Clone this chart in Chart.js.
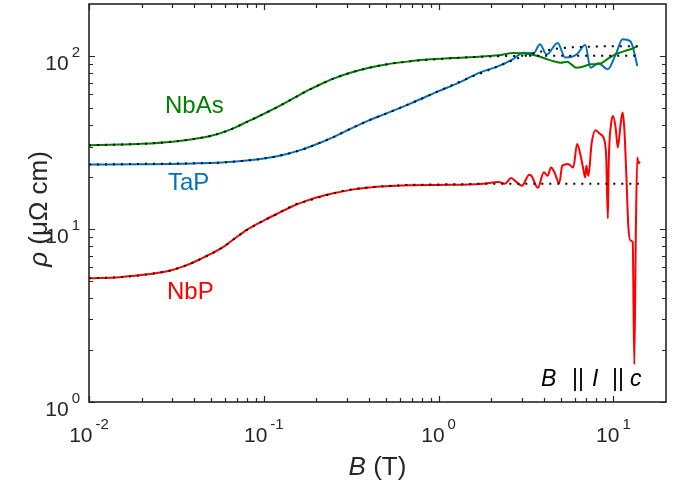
<!DOCTYPE html>
<html>
<head>
<meta charset="utf-8">
<script src="https://cdn.jsdelivr.net/npm/chart.js@4"></script>
<style>
  html, body { margin: 0; padding: 0; background: #fff; }
  #wrap { width: 685px; height: 483px; }
</style>
</head>
<body>
<div id="wrap"><canvas id="chart" width="685" height="483"></canvas></div>
<script>
// field values (T) and resistivity (uOhm cm)
const bNbAs = [0.01, 0.015, 0.02, 0.03, 0.04, 0.05, 0.06, 0.07, 0.08, 0.09, 0.1, 0.12, 0.15, 0.18, 0.21, 0.25, 0.3, 0.4, 0.5, 0.7, 0.9, 1.2, 1.7, 2.2, 2.7, 3.2, 3.7, 4.2, 4.6, 5.0, 5.45, 5.8, 6.1, 6.6, 7.4, 8.4, 9.2, 10, 11, 12, 13, 13.7];
const rhoNbAs = [30.5, 30.8, 31.1, 32.0, 33.2, 34.6, 36.6, 39.0, 41.6, 44.0, 46.3, 50.8, 57.5, 63.5, 68.5, 74, 79, 85.5, 89.5, 93.5, 95.7, 97.5, 99, 101, 104, 103, 100, 95.7, 93, 91.5, 92.7, 89, 85.7, 86.5, 89.6, 90.3, 95.7, 101, 105, 108, 111, 114];

const bTaP = [0.01, 0.02, 0.03, 0.04, 0.05, 0.06, 0.08, 0.1, 0.13, 0.16, 0.2, 0.25, 0.3, 0.4, 0.5, 0.7, 1.0, 1.3, 1.7, 2.2, 2.67, 3.05, 3.5, 3.8, 4.15, 4.8, 5.3, 5.8, 6.2, 6.9, 7.4, 8.2, 9.3, 10.3, 11.3, 12.5, 13.1, 13.7];
const rhoTaP = [23.6, 23.7, 23.8, 23.95, 24.1, 24.3, 24.9, 25.6, 26.9, 28.5, 30.9, 34.0, 37.2, 42.5, 46.5, 53.5, 62.7, 70, 80, 87.5, 96, 104.5, 104, 117, 102, 119, 98, 99, 102.7, 115.7, 85.7, 91, 84, 102, 125, 122, 107, 87.6];

const bNbP = [0.01, 0.015, 0.02, 0.025, 0.03, 0.035, 0.04, 0.05, 0.06, 0.07, 0.08, 0.09, 0.1, 0.12, 0.145, 0.17, 0.2, 0.25, 0.32, 0.4, 0.5, 0.7, 1.0, 1.5, 1.8, 2.2, 2.4, 2.6, 2.8, 3.0, 3.3, 3.4, 3.7, 4.0, 4.2, 4.4, 4.6, 4.9, 5.1, 5.5, 5.9, 6.2, 6.5, 6.7, 6.9, 7.0, 7.2, 7.5, 7.9, 8.4, 8.9, 9.1, 9.3, 9.4, 9.7, 9.95, 10.3, 10.6, 11.0, 11.3, 11.55, 11.85, 12.17, 12.5, 12.9, 13.17, 13.45, 13.7, 13.9, 14.2];
const rhoNbP = [5.2, 5.27, 5.42, 5.58, 5.8, 6.1, 6.45, 7.2, 8.0, 9.0, 9.9, 10.6, 11.2, 12.3, 13.5, 14.4, 15.2, 16.1, 16.9, 17.4, 17.7, 17.9, 18.0, 18.1, 18.3, 18.7, 18.3, 19.7, 18.6, 17.8, 20.6, 20.3, 17.3, 21.3, 20.3, 22.7, 21.3, 18.4, 23.2, 23.8, 22.7, 31, 26.5, 22.7, 19.9, 23.2, 20.3, 31, 37.3, 35.4, 32.4, 25.9, 11.5, 23.7, 40.4, 45, 38.6, 29.6, 40.4, 47.1, 38, 21, 10.5, 8.6, 8.4, 1.65, 10, 25.9, 24, 24.5];

// dotted fit curves
const bFit = [0.01, 0.015, 0.02, 0.03, 0.04, 0.05, 0.06, 0.07, 0.08, 0.09, 0.1, 0.12, 0.15, 0.18, 0.21, 0.25, 0.3, 0.4, 0.5, 0.7, 1, 1.5, 2, 3, 4, 5, 6, 8, 10, 14];
const fitNbAs = [30.5, 30.8, 31.1, 32.0, 33.2, 34.6, 36.6, 39.0, 41.6, 44.0, 46.3, 50.8, 57.5, 63.5, 68.5, 74, 79, 85.5, 89.5, 93.5, 96, 98.5, 99.5, 100.3, 100.5, 100.5, 100.5, 100.5, 100.5, 100.5];
const fitTaP = [23.6, 23.7, 23.8, 23.9, 24.0, 24.1, 24.3, 24.6, 24.9, 25.2, 25.6, 26.4, 27.9, 29.6, 31.6, 34.0, 37.2, 42.5, 46.5, 53.5, 62.7, 75, 84, 99, 107, 111, 112.5, 113.5, 114, 114];
const fitNbP = [5.2, 5.27, 5.42, 5.8, 6.45, 7.2, 8.0, 9.0, 9.9, 10.6, 11.2, 12.3, 13.8, 14.6, 15.3, 16.1, 16.8, 17.4, 17.7, 18.0, 18.1, 18.2, 18.3, 18.3, 18.3, 18.3, 18.3, 18.3, 18.3, 18.3];

// axes
const xMajorTicks = [0.01, 0.1, 1, 10];
const xTickExps = ['-2', '-1', '0', '1'];
const yMajorTicks = [1, 10, 100];
const yTickExps = ['0', '1', '2'];

const axisColor = '#262626';
const font = "'Liberation Sans', Arial, Helvetica, sans-serif";

function pts(xs, ys) {
    return xs.map((v, i) => ({ x: v, y: ys[i] }));
}

function minorTicks(min, max) {
    const out = [];
    for (let d = min; d < max; d *= 10) {
        for (let k = 2; k <= 9; k++) {
            const v = k * d;
            if (v < max) out.push(v);
        }
    }
    return out;
}

function drawPow(ctx, exp, x, y, align) {
    ctx.font = '21px ' + font;
    const wb = ctx.measureText('10').width + 3;
    ctx.font = '15px ' + font;
    const we = ctx.measureText(exp).width;
    let left = align === 'center' ? x - (wb + we) / 2 : x - (wb + we);
    ctx.textAlign = 'left';
    ctx.textBaseline = 'alphabetic';
    ctx.font = '21px ' + font;
    ctx.fillText('10', left, y);
    ctx.font = '15px ' + font;
    ctx.fillText(exp, left + wb, y - 13);
}

function drawParts(ctx, parts, x, y, size) {
    // parts: [text, italic]
    let cx = x;
    parts.forEach(p => {
        ctx.font = (p[1] ? 'italic ' : '') + size + 'px ' + font;
        ctx.fillText(p[0], cx, y);
        cx += ctx.measureText(p[0]).width;
    });
    return cx - x;
}

function partsWidth(ctx, parts, size) {
    let w = 0;
    parts.forEach(p => {
        ctx.font = (p[1] ? 'italic ' : '') + size + 'px ' + font;
        w += ctx.measureText(p[0]).width;
    });
    return w;
}

const axesPlugin = {
    id: 'matlabAxes',
    afterDraw(chart) {
        const { ctx, chartArea: a, scales: { x, y } } = chart;
        ctx.save();
        ctx.strokeStyle = axisColor;
        ctx.fillStyle = axisColor;

        // ticks, inward on all four sides
        ctx.lineWidth = 1.2;
        ctx.beginPath();
        const xt = xMajorTicks.map(v => [v, 6]).concat(minorTicks(0.01, 20).map(v => [v, 4]));
        xt.forEach(([v, len]) => {
            const px = Math.round(x.getPixelForValue(v)) + 0.5;
            ctx.moveTo(px, a.bottom); ctx.lineTo(px, a.bottom - len);
            ctx.moveTo(px, a.top); ctx.lineTo(px, a.top + len);
        });
        const yt = yMajorTicks.map(v => [v, 6]).concat(minorTicks(1, 200).map(v => [v, 4]));
        yt.forEach(([v, len]) => {
            const py = Math.round(y.getPixelForValue(v)) + 0.5;
            ctx.moveTo(a.left, py); ctx.lineTo(a.left + len, py);
            ctx.moveTo(a.right, py); ctx.lineTo(a.right - len, py);
        });
        ctx.stroke();

        // box
        ctx.lineWidth = 1.6;
        ctx.strokeRect(a.left, a.top, a.right - a.left, a.bottom - a.top);

        // tick labels
        xMajorTicks.forEach((v, i) => drawPow(ctx, xTickExps[i], x.getPixelForValue(v), a.bottom + 40, 'center'));
        yMajorTicks.forEach((v, i) => drawPow(ctx, yTickExps[i], a.left - 9, y.getPixelForValue(v) + 14, 'right'));

        // axis titles
        ctx.textAlign = 'left';
        ctx.textBaseline = 'alphabetic';
        const xl = [['B', true], [' (T)', false]];
        drawParts(ctx, xl, (a.left + a.right) / 2 - partsWidth(ctx, xl, 26) / 2, 475, 26);
        const yl = [['\u03C1', true], [' (\u03BC\u03A9 cm)', false]];
        ctx.save();
        ctx.translate(47, (a.top + a.bottom) / 2 + 6);
        ctx.rotate(-Math.PI / 2);
        drawParts(ctx, yl, -partsWidth(ctx, yl, 26) / 2, 0, 26);
        ctx.restore();

        // B || I || c
        ctx.fillStyle = '#000';
        const by = a.bottom - 16;
        ctx.font = 'italic 23px ' + font; ctx.fillText('B', a.right - 125, by);
        ctx.font = '23px ' + font; ctx.fillText('||', a.right - 94, by);
        ctx.font = 'italic 23px ' + font; ctx.fillText('I', a.right - 74, by);
        ctx.font = '23px ' + font; ctx.fillText('||', a.right - 54, by);
        ctx.font = 'italic 23px ' + font; ctx.fillText('c', a.right - 36, by);

        // series labels
        ctx.font = '24px ' + font;
        ctx.fillStyle = '#008000'; ctx.fillText('NbAs', a.left + 76, a.top + 109);
        ctx.fillStyle = '#0072BD'; ctx.fillText('TaP', a.left + 79, a.top + 186);
        ctx.fillStyle = '#FF0000'; ctx.fillText('NbP', a.left + 78, a.top + 295);
        ctx.restore();
    }
};

const lineStyle = { showLine: true, pointRadius: 0, borderWidth: 2, cubicInterpolationMode: 'monotone', fill: false };
const fitStyle = { showLine: true, pointRadius: 0, borderWidth: 2, borderColor: '#000', borderDash: [2, 6], cubicInterpolationMode: 'monotone', fill: false, order: 0 };

new Chart(document.getElementById('chart'), {
    type: 'scatter',
    data: {
        datasets: [
            { ...fitStyle, data: pts(bFit, fitNbAs) },
            { ...fitStyle, data: pts(bFit, fitTaP) },
            { ...fitStyle, data: pts(bFit, fitNbP) },
            { ...lineStyle, order: 1, borderColor: '#008000', data: pts(bNbAs, rhoNbAs) },
            { ...lineStyle, order: 2, borderColor: '#0072BD', data: pts(bTaP, rhoTaP) },
            { ...lineStyle, order: 1, borderColor: '#FF0000', data: pts(bNbP, rhoNbP) }
        ]
    },
    options: {
        responsive: false,
        animation: false,
        devicePixelRatio: 1,
        layout: { padding: { left: 89, top: 4, right: 19, bottom: 81 } },
        plugins: { legend: { display: false }, tooltip: { enabled: false } },
        scales: {
            x: { type: 'logarithmic', min: 0.01, max: 20, display: false },
            y: { type: 'logarithmic', min: 1, max: 200, display: false }
        }
    },
    plugins: [axesPlugin]
});
</script>
</body>
</html>
